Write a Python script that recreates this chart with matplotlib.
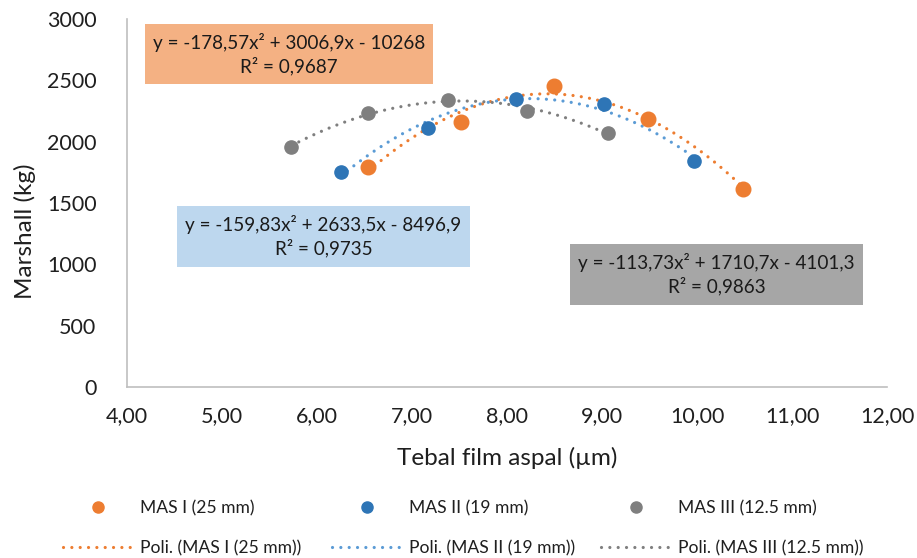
import numpy as np
import matplotlib
matplotlib.use("Agg")
import matplotlib.pyplot as plt
from matplotlib.lines import Line2D
from matplotlib.patches import Rectangle

plt.rcParams['font.family'] = ['Lato', 'DejaVu Sans']

# data
mas1_x = [6.54, 7.52, 8.49, 9.48, 10.48]
mas1_y = [1793, 2160, 2453, 2184, 1614]
mas2_x = [6.25, 7.17, 8.09, 9.02, 9.97]
mas2_y = [1752, 2111, 2347, 2306, 1842]
mas3_x = [5.73, 6.54, 7.38, 8.21, 9.06]
mas3_y = [1956, 2233, 2339, 2249, 2070]

# trendline coefficients shown on the chart (a, b, c)
poly1 = [-178.57, 3006.9, -10268]
poly2 = [-159.83, 2633.5, -8496.9]
poly3 = [-113.73, 1710.7, -4101.3]

labels = ['MAS I (25 mm)', 'MAS II (19 mm)', 'MAS III (12.5 mm)']
eq_texts = ['y = -178,57x² + 3006,9x - 10268\nR² = 0,9687',
            'y = -159,83x² + 2633,5x - 8496,9\nR² = 0,9735',
            'y = -113,73x² + 1710,7x - 4101,3\nR² = 0,9863']

marker_colors = ['#ED7D31', '#2E75B6', '#7F7F7F']
line_colors = ['#ED7D31', '#5B9BD5', '#7F7F7F']
box_colors = ['#F4B183', '#BDD7EE', '#A6A6A6']
marker_sizes = [10.5, 9.5, 9.5]

W, H = 917, 558
fig = plt.figure(figsize=(W / 100, H / 100), dpi=100)
ax = fig.add_axes([127 / W, 1 - 387 / H, 760 / W, 368 / H])

dots = (0, (0.01, 2.6))
series = [(mas1_x, mas1_y, poly1), (mas2_x, mas2_y, poly2), (mas3_x, mas3_y, poly3)]
handles = []
for i, (xs, ys, coef) in enumerate(series):
    xx = np.linspace(min(xs), max(xs), 200)
    ax.plot(xx, np.polyval(coef, xx), color=line_colors[i], lw=2.3,
            linestyle=dots, dash_capstyle='round', zorder=2)
    ax.plot(xs, ys, 'o', color=marker_colors[i], ms=marker_sizes[i],
            mec=marker_colors[i], linestyle='none', zorder=3)
    leg_mk = Line2D([], [], marker='o', color=marker_colors[i], ms=8, linestyle='none')
    leg_ln = Line2D([], [], color=line_colors[i], lw=2.3, linestyle=dots,
                    dash_capstyle='round')
    handles.append((leg_mk, leg_ln))

ax.set_xlim(4, 12)
ax.set_ylim(0, 3000)
ax.set_xticks(np.arange(4, 12.01, 1))
ax.set_xticklabels([f'{v:.2f}'.replace('.', ',') for v in np.arange(4, 12.01, 1)])
ax.set_yticks(np.arange(0, 3001, 500))
ax.tick_params(length=0, labelsize=15.5, colors='#1f1f1f')
ax.tick_params(axis='x', pad=14)
ax.tick_params(axis='y', pad=22)
for s in ['top', 'right']:
    ax.spines[s].set_visible(False)
for s in ['left', 'bottom']:
    ax.spines[s].set_color('#BFBFBF')
    ax.spines[s].set_linewidth(1.2)

fig.text(507 / W, 1 - 458 / H, 'Tebal film aspal (µm)', ha='center', va='center',
         fontsize=17.5, color='#1f1f1f')
fig.text(25 / W, 1 - 231 / H, 'Marshall (kg)', ha='center', va='center',
         rotation=90, fontsize=17.5, color='#1f1f1f')

# equation boxes (pixel boxes)
boxes = [(145, 24, 433, 84), (177, 206, 470, 267), (570, 244, 863, 305)]
for (x0, y0, x1, y1), col, txt in zip(boxes, box_colors, eq_texts):
    fig.add_artist(Rectangle((x0 / W, 1 - y1 / H), (x1 - x0) / W, (y1 - y0) / H,
                             transform=fig.transFigure, facecolor=col,
                             edgecolor='none', zorder=5))
    fig.text((x0 + x1) / 2 / W, 1 - (y0 + y1) / 2 / H, txt, ha='center', va='center',
             fontsize=13.6, color='#1a1a1a', linespacing=1.3, zorder=6)

# legend, one block per column
col_x = [63, 332, 601]
for i in range(3):
    fig.legend(handles=list(handles[i]),
               labels=[labels[i], 'Poli. (' + labels[i] + ')'],
               loc='center left', bbox_to_anchor=(col_x[i] / W, 1 - 528 / H),
               frameon=False, fontsize=12.6, handlelength=4.0, handletextpad=0.4,
               borderpad=0, borderaxespad=0, labelspacing=1.35,
               labelcolor='#1f1f1f')

fig.savefig('out.png', dpi=100)
